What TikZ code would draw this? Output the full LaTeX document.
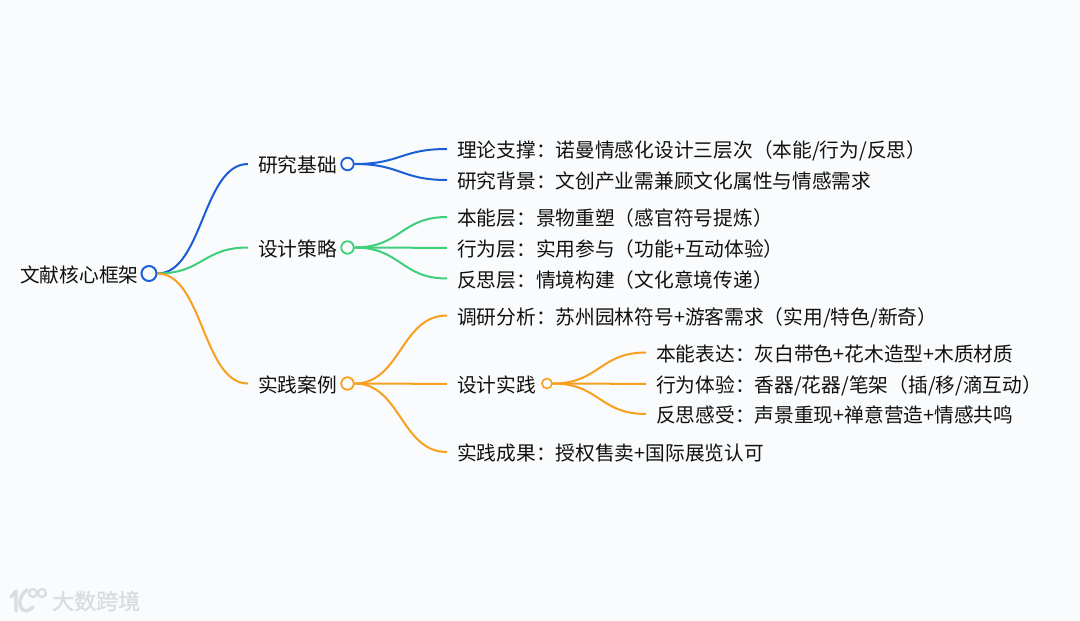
\documentclass[tikz,border=0pt]{standalone}
\usepackage{fontspec}
\setmainfont{Noto Sans CJK SC}
\newfontfamily\wmfont[FakeBold=1.2]{Noto Sans CJK SC}
\usetikzlibrary{calc}
\definecolor{bgc}{HTML}{F9FBFD}
\definecolor{mblue}{HTML}{1A5FD6}
\definecolor{mgreen}{HTML}{3ECF7A}
\definecolor{morange}{HTML}{F79F1F}
\definecolor{tx}{HTML}{111111}
\definecolor{wm}{HTML}{D9DDE1}
\tikzset{
  lab/.style={anchor=west,inner xsep=10pt,inner ysep=0pt,text=tx,text height=18pt,text depth=1pt,font=\fontsize{19.72}{22}\selectfont},
  dotA/.style={circle,draw,line width=2pt,fill=bgc,minimum size=15pt,inner sep=0pt},
  dotB/.style={circle,draw,line width=1.8pt,fill=bgc,minimum size=12.5pt,inner sep=0pt},
  dotC/.style={circle,draw,line width=1.6pt,fill=bgc,minimum size=10pt,inner sep=0pt},
  lnk/.style={line width=2pt},
  wmark/.style={line cap=round,line join=round}
}
\newcommand{\mmlink}[3]{%
  \path ($(#1.east)!.5!(#2.west)$) coordinate (mm);
  \draw[lnk,#3] (#1.east) .. controls (mm |- #1.east) and (mm |- #2.west) .. (#2.west);
}
\begin{document}
\begin{tikzpicture}[x=1pt,y=-1pt]
\useasboundingbox (0,0) rectangle (1080,621);
\fill[bgc] (0,0) rectangle (1080,621);
% nodes
\node[lab,inner xsep=0pt] (root) at (20,274) {文献核心框架};
\node[lab] (a) at (248,164) {研究基础};
\node[lab] (b) at (248,247.5) {设计策略};
\node[lab] (c) at (248,383.5) {实践案例};
\node[lab] (a1) at (447,149) {理论支撑：诺曼情感化设计三层次（本能/行为/反思）};
\node[lab] (a2) at (447,180) {研究背景：文创产业需兼顾文化属性与情感需求};
\node[lab] (b1) at (447,217) {本能层：景物重塑（感官符号提炼）};
\node[lab] (b2) at (447,247.9) {行为层：实用参与（功能+互动体验）};
\node[lab] (b3) at (447,278.5) {反思层：情境构建（文化意境传递）};
\node[lab] (c1) at (447,315.5) {调研分析：苏州园林符号+游客需求（实用/特色/新奇）};
\node[lab] (c2) at (447,383.9) {设计实践};
\node[lab] (c3) at (447,452) {实践成果：授权售卖+国际展览认可};
\node[lab] (d1) at (646,352.5) {本能表达：灰白带色+花木造型+木质材质};
\node[lab] (d2) at (646,383.9) {行为体验：香器/花器/笔架（插/移/滴互动）};
\node[lab] (d3) at (646,414) {反思感受：声景重现+禅意营造+情感共鸣};
% circles
\node[dotA,draw=mblue] (r0) at (149,273.5) {};
\node[dotB,draw=mblue] (a0) at (347.5,164) {};
\node[dotB,draw=mgreen] (b0) at (347.5,247.5) {};
\node[dotB,draw=morange] (c0) at (347.5,383.5) {};
\node[dotC,draw=morange] (e0) at (547,383.5) {};
% connectors
\mmlink{r0}{a}{mblue}
\mmlink{r0}{b}{mgreen}
\mmlink{r0}{c}{morange}
\mmlink{a0}{a1}{mblue}
\mmlink{a0}{a2}{mblue}
\mmlink{b0}{b1}{mgreen}
\mmlink{b0}{b2}{mgreen}
\mmlink{b0}{b3}{mgreen}
\mmlink{c0}{c1}{morange}
\mmlink{c0}{c2}{morange}
\mmlink{c0}{c3}{morange}
\mmlink{e0}{d1}{morange}
\mmlink{e0}{d2}{morange}
\mmlink{e0}{d3}{morange}
% watermark
\draw[wmark,wm,line width=3.4pt] (11,597) -- (16,591) -- (16,611);
\draw[wmark,wm,line width=3.4pt] (33,607) .. controls (26,615) and (19,609) .. (20,601) .. controls (21,595) and (24,592) .. (27,590);
\draw[wm,line width=2.2pt] (33,593) circle (4);
\draw[wm,line width=2.2pt] (42,593) circle (4);
\node[anchor=west,inner sep=0pt,text=wm,font=\wmfont\fontsize{22}{24}\selectfont] (wmtext) at (52,601) {大数跨境};
\end{tikzpicture}
\end{document}
